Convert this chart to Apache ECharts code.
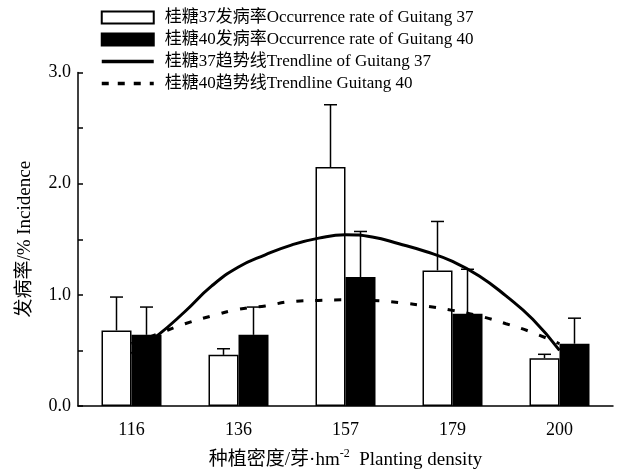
<!DOCTYPE html>
<html>
<head>
<meta charset="utf-8">
<script src="https://cdn.jsdelivr.net/npm/echarts@6/dist/echarts.min.js"></script>
<style>
  html, body { margin: 0; padding: 0; background: #fff; }
  #chart { width: 619px; height: 472px; }
</style>
</head>
<body>
<div id="chart"></div>
<script>
// 种植密度
const densities = ['116', '136', '157', '179', '200'];

// 发病率 (%)
const g37Rate = [0.68, 0.46, 2.15, 1.22, 0.43];
const g37Err = [0.30, 0.055, 0.56, 0.44, 0.035];
const g40Rate = [0.64, 0.64, 1.16, 0.83, 0.56];
const g40Err = [0.25, 0.25, 0.41, 0.40, 0.23];

// 趋势线, x in category units (0..5, centres at 0.5, 1.5 ...)
const trendX = [0.5, 0.75, 1.0, 1.25, 1.5, 1.75, 2.0, 2.25, 2.5, 2.75, 3.0, 3.25, 3.5, 3.75, 4.0, 4.25, 4.5];
const trend37 = [0.47, 0.64, 0.85, 1.08, 1.25, 1.36, 1.45, 1.51, 1.54, 1.52, 1.46, 1.39, 1.30, 1.17, 0.99, 0.78, 0.50];
const trend40 = [0.56, 0.65, 0.74, 0.81, 0.87, 0.90, 0.94, 0.95, 0.955, 0.95, 0.93, 0.90, 0.86, 0.81, 0.74, 0.66, 0.56];

const yTicks = [0, 0.5, 1, 1.5, 2, 2.5, 3];

const FONT = '"Times New Roman", "Liberation Serif", "Noto Sans CJK SC", serif';

const chart = echarts.init(document.getElementById('chart'));

function errorBar(offset) {
  return function (params, api) {
    const base = api.coord([api.value(0), api.value(1)]);
    const top = api.coord([api.value(0), api.value(2)]);
    const x = base[0] + offset;
    const style = { stroke: '#000', lineWidth: 1.5 };
    return {
      type: 'group',
      children: [
        { type: 'line', shape: { x1: x, y1: base[1], x2: x, y2: top[1] }, style: style },
        { type: 'line', shape: { x1: x - 6.5, y1: top[1], x2: x + 6.5, y2: top[1] }, style: style }
      ]
    };
  };
}

const name37 = '桂糖37发病率Occurrence rate of Guitang 37';
const name40 = '桂糖40发病率Occurrence rate of Guitang 40';
const trendName37 = '桂糖37趋势线Trendline of Guitang 37';
const trendName40 = '桂糖40趋势线Trendline Guitang 40';

const noSymbol = { color: 'rgba(0,0,0,0)', borderWidth: 0, borderColor: 'rgba(0,0,0,0)' };

const option = {
  backgroundColor: '#fff',
  animation: false,
  textStyle: { fontFamily: FONT, color: '#000' },
  legend: {
    orient: 'vertical',
    left: 100,
    top: 9,
    padding: 0,
    itemWidth: 52,
    itemHeight: 12,
    itemGap: 5,
    textStyle: { fontFamily: FONT, fontSize: 17, color: '#000', lineHeight: 17, padding: [0, 0, 0, 6] },
    data: [
      { name: name37, icon: 'rect' },
      { name: name40, icon: 'rect' },
      { name: trendName37, itemStyle: noSymbol, lineStyle: { width: 3.5 } },
      { name: trendName40, itemStyle: noSymbol, lineStyle: { width: 3.5, type: [7, 9] } }
    ]
  },
  grid: { left: 78, right: 6, top: 72.5, bottom: 66, outerBoundsMode: 'none' },
  xAxis: [
    {
      type: 'category',
      data: densities,
      name: '{a|种植密度/芽·hm}{s|-2}{a|  Planting density}',
      nameLocation: 'middle',
      nameGap: 42,
      nameTextStyle: {
        rich: {
          a: { fontFamily: FONT, fontSize: 19, color: '#000', verticalAlign: 'bottom', lineHeight: 22 },
          s: { fontFamily: FONT, fontSize: 12, color: '#000', verticalAlign: 'top', lineHeight: 22, padding: [0, 0, 8, 0] }
        }
      },
      axisLine: { lineStyle: { color: '#000', width: 1.5 } },
      axisTick: { inside: true, length: 6, lineStyle: { color: '#000', width: 1.5 } },
      axisLabel: { color: '#000', fontFamily: FONT, fontSize: 18, margin: 15 },
      splitLine: { show: false }
    },
    {
      type: 'value',
      min: 0,
      max: 5,
      show: false
    }
  ],
  yAxis: {
    type: 'value',
    min: 0,
    max: 3,
    interval: 0.5,
    name: '发病率/% Incidence',
    nameLocation: 'middle',
    nameGap: 43,
    nameTextStyle: { fontFamily: FONT, fontSize: 19, color: '#000' },
    axisLine: { show: true, lineStyle: { color: '#000', width: 1.5 } },
    axisTick: { show: true, inside: true, length: 5, lineStyle: { color: '#000', width: 1.5 } },
    axisLabel: {
      color: '#000', fontFamily: FONT, fontSize: 18, margin: 7,
      formatter: function (v) { return yTicks.indexOf(v) % 2 === 0 ? v.toFixed(1) : ''; }
    },
    splitLine: { show: false }
  },
  series: [
    {
      name: name37,
      type: 'bar',
      data: g37Rate,
      barWidth: 30,
      barGap: '0%',
      itemStyle: { color: '#fff', borderColor: '#000', borderWidth: 1.5 },
      z: 2
    },
    {
      name: name40,
      type: 'bar',
      data: g40Rate,
      barWidth: 30,
      barGap: '0%',
      itemStyle: { color: '#000', borderColor: '#000', borderWidth: 1.5 },
      z: 2
    },
    {
      type: 'custom',
      renderItem: errorBar(-15),
      data: g37Rate.map((v, i) => [i, v, v + g37Err[i]]),
      z: 3,
      silent: true
    },
    {
      type: 'custom',
      renderItem: errorBar(15),
      data: g40Rate.map((v, i) => [i, v, v + g40Err[i]]),
      z: 3,
      silent: true
    },
    {
      name: trendName37,
      type: 'line',
      xAxisIndex: 1,
      data: trendX.map((x, i) => [x, trend37[i]]),
      smooth: true,
      symbol: 'none',
      lineStyle: { color: '#000', width: 3 },
      itemStyle: { color: '#000' },
      z: 4
    },
    {
      name: trendName40,
      type: 'line',
      xAxisIndex: 1,
      data: trendX.map((x, i) => [x, trend40[i]]),
      smooth: true,
      symbol: 'none',
      lineStyle: { color: '#000', width: 3, type: [7, 12] },
      itemStyle: { color: '#000' },
      z: 4
    }
  ]
};

chart.setOption(option);
</script>
</body>
</html>
